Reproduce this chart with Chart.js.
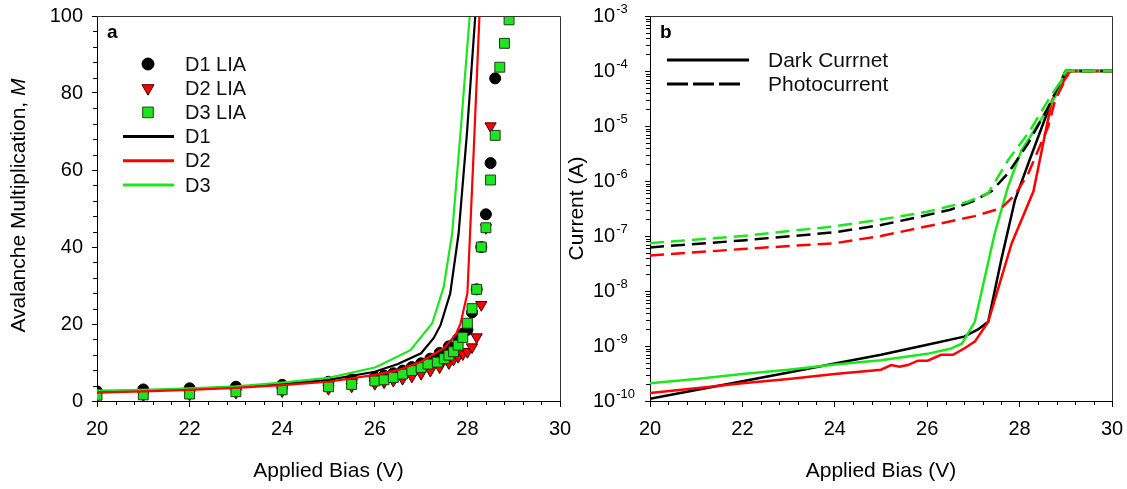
<!DOCTYPE html>
<html><head><meta charset="utf-8">
<script src="https://cdn.jsdelivr.net/npm/chart.js@4.4.1/dist/chart.umd.min.js"></script>
<style>
html,body{margin:0;padding:0;background:#fff;}
#wrap{position:relative;width:1127px;height:489px;overflow:hidden;background:#fff;}
#ca{position:absolute;left:0;top:0;}
#cb{position:absolute;left:560px;top:0;}
</style></head><body>
<div id="wrap"><canvas id="ca" width="580" height="489"></canvas><canvas id="cb" width="567" height="489"></canvas></div>
<script>
// ---------- Panel a : avalanche multiplication ----------
const biasD1LIA = [20,21,22,23,24,25,25.5,26,26.2,26.4,26.6,26.8,27.0,27.2,27.4,27.6,27.8,27.9,28.0,28.1,28.2,28.3,28.4,28.5,28.6];
const multD1LIA = [2.5,3.0,3.3,3.7,4.2,5.0,5.6,6.2,6.6,7.2,7.9,8.8,9.8,11.0,12.5,14.2,16.2,17.5,18.5,23,29,40,48.5,61.8,83.8];
const biasD2LIA = [20,21,22,23,24,25,25.5,26,26.2,26.4,26.6,26.8,27.0,27.2,27.4,27.6,27.7,27.8,27.9,28.0,28.1,28.2,28.3,28.4,28.5];
const multD2LIA = [1.3,1.5,1.7,2.2,2.6,3.2,3.8,4.5,4.9,5.3,5.8,6.4,7.1,7.9,8.8,9.9,10.8,11.5,12.2,12.8,14.0,16.6,25,45,71.4];
const biasD3LIA = [20,21,22,23,24,25,25.5,26,26.2,26.4,26.6,26.8,27.0,27.15,27.35,27.5,27.6,27.7,27.8,27.9,28.0,28.1,28.2,28.3,28.4,28.5,28.6,28.7,28.8,28.9];
const multD3LIA = [1.5,1.6,1.8,2.4,2.9,3.7,4.3,5.2,5.5,6.1,7.0,7.9,8.7,9.6,10.1,11.0,11.9,12.8,14.5,16.5,20.2,24,29,40,45,57.4,69,86.7,92.9,99];
const biasD1 = [20,21,22,23,24,25,26,26.5,27,27.27,27.42,27.63,27.81,27.99,28.17];
const multD1 = [2.4,2.7,3.1,3.6,4.4,5.5,7.6,9.6,12.4,16.3,19.7,28,43.5,69.5,100];
const biasD2 = [20,21,22,23,24,25,26,26.5,27,27.5,27.75,27.85,28.0,28.14,28.26];
const multD2 = [2.2,2.5,2.9,3.4,4.1,5.0,6.8,8.0,10.2,13.8,17.3,20,28,66,100];
const biasD3 = [20,21,22,23,24,25,26,26.12,26.77,27.24,27.49,27.67,27.85,28.05];
const multD3 = [2.7,2.9,3.3,3.8,4.8,6.0,8.7,9.35,13.2,20.2,29.7,43.5,69.5,100];
const xTicksA = [20,22,24,26,28,30];
const yTicksA = [0,20,40,60,80,100];

// ---------- Panel b : dark current / photocurrent ----------
const biasDarkD1 = [20,21,22,23,24,25,26,26.8,27.1,27.32,27.6,27.9,28.19,28.62,28.95,29.0,30];
const darkD1 = [1.1e-10,1.58e-10,2.29e-10,3.31e-10,4.79e-10,6.92e-10,1.05e-9,1.48e-9,2.0e-9,2.75e-9,3.6e-8,4.5e-7,2.1e-6,1.95e-5,7.4e-5,1e-4,1e-4];
const biasDarkD2 = [20,21,22,23,24,25,25.22,25.4,25.58,25.8,26.01,26.3,26.56,26.81,27.03,27.32,27.83,28.3,28.7,29.06,29.1,30];
const darkD2 = [1.4e-10,1.7e-10,2.1e-10,2.5e-10,3.1e-10,3.7e-10,4.5e-10,4.2e-10,4.5e-10,5.4e-10,5.4e-10,6.9e-10,6.9e-10,9.1e-10,1.2e-9,2.75e-9,7.4e-8,6.5e-7,2.95e-5,9.1e-5,1e-4,1e-4];
const biasDarkD3 = [20,21,22,23,24,25,26,26.5,26.75,27.03,27.46,27.75,28.04,28.41,28.77,28.98,29.0,30];
const darkD3 = [2.1e-10,2.5e-10,3.1e-10,3.7e-10,4.6e-10,5.5e-10,7.2e-10,8.9e-10,1.1e-9,2.75e-9,1.1e-7,7.9e-7,3.6e-6,1.1e-5,3.4e-5,9.8e-5,1e-4,1e-4];
const biasPhotoD1 = [20,22,24,25,26,26.5,27,27.39,27.75,28.19,28.62,29.0,30];
const photoD1 = [6.2e-8,8.3e-8,1.17e-7,1.58e-7,2.4e-7,3.0e-7,4.3e-7,6.5e-7,1.38e-6,4.9e-6,2.2e-5,1e-4,1e-4];
const biasPhotoD2 = [20,22,24,25,26,27.03,27.6,27.9,28.19,28.62,28.77,29.04,29.1,30];
const photoD2 = [4.4e-8,5.8e-8,7.4e-8,1.0e-7,1.5e-7,2.3e-7,3.2e-7,5.6e-7,1.38e-6,9.8e-6,2.95e-5,8.5e-5,1e-4,1e-4];
const biasPhotoD3 = [20,22,24,25,26,26.5,26.88,27.32,27.75,28.19,28.62,28.91,29.0,30];
const photoD3 = [7.4e-8,1.0e-7,1.5e-7,2.0e-7,2.75e-7,3.5e-7,4.2e-7,6.0e-7,2.4e-6,7.4e-6,2.95e-5,6.9e-5,1e-4,1e-4];

const FONT = '"Liberation Sans", Arial, sans-serif';
Chart.defaults.font.family = FONT;
Chart.defaults.color = '#000';
const GREEN = '#1ee61e', RED = '#ff0000', BLACK = '#000000';

function pts(xs, ys){ return xs.map((x,i)=>({x:x, y:ys[i]})); }

function minorPlugin(xVals, yVals){
  return {id:'minorTicks', afterDraw(chart){
    const ctx=chart.ctx, a=chart.chartArea, xs=chart.scales.x, ys=chart.scales.y;
    ctx.save(); ctx.strokeStyle='#000'; ctx.lineWidth=1; ctx.beginPath();
    xVals.forEach(v=>{const p=Math.round(xs.getPixelForValue(v))+0.5; ctx.moveTo(p,a.bottom); ctx.lineTo(p,a.bottom+4);});
    yVals.forEach(v=>{const p=Math.round(ys.getPixelForValue(v))+0.5; ctx.moveTo(a.left-4,p); ctx.lineTo(a.left,p);});
    ctx.stroke();
    ctx.beginPath();
    ctx.moveTo(a.left, Math.round(a.top)+0.5); ctx.lineTo(Math.round(a.right)+0.5, Math.round(a.top)+0.5);
    ctx.lineTo(Math.round(a.right)+0.5, a.bottom);
    ctx.strokeStyle='#333'; ctx.stroke();
    ctx.restore();
  }};
}
function panelLabel(txt){
  return {id:'panelLabel', afterDraw(chart){
    const ctx=chart.ctx, a=chart.chartArea;
    ctx.save(); ctx.font='bold 19px '+FONT; ctx.fillStyle='#000'; ctx.textBaseline='alphabetic'; ctx.textAlign='left';
    ctx.fillText(txt, a.left+10, a.top+22); ctx.restore();
  }};
}

const xMinor = []; for(let i=0;i<=25;i++){ if(i%5) xMinor.push(20+i*0.4); }
const yMinorA = []; for(let i=0;i<=25;i++){ if(i%5) yMinorA.push(i*4); }
const yMinorB = []; for(let e=-10;e<=-4;e++){ for(let k=2;k<=9;k++) yMinorB.push(k*Math.pow(10,e)); }

const legendA = {id:'legendA', afterDraw(chart){
  const ctx=chart.ctx, a=chart.chartArea;
  ctx.save();
  chart.data.datasets.forEach((ds,i)=>{
    const y = a.top + 48 + i*24.2;
    if (ds.showLine){
      ctx.strokeStyle=ds.borderColor; ctx.lineWidth=3; ctx.beginPath();
      ctx.moveTo(a.left+26,y); ctx.lineTo(a.left+77,y); ctx.stroke();
    } else {
      ctx.fillStyle=ds.backgroundColor; ctx.strokeStyle=ds.borderColor; ctx.lineWidth=ds.borderWidth;
      Chart.helpers.drawPoint(ctx,{pointStyle:ds.pointStyle, radius:ds.pointRadius+0.5, rotation:ds.pointRotation||0, borderWidth:ds.borderWidth}, a.left+51, y);
    }
    ctx.fillStyle='#111'; ctx.font='20px '+FONT; ctx.textBaseline='middle'; ctx.textAlign='left';
    ctx.fillText(ds.label, a.left+88, y+1);
  });
  ctx.restore();
}};

const yTitleA = {id:'yTitleA', afterDraw(chart){
  const ctx=chart.ctx, a=chart.chartArea;
  const t1='Avalanche Multiplication, ', t2='M';
  ctx.save();
  ctx.translate(19, (a.top+a.bottom)/2 - 3);
  ctx.rotate(-Math.PI/2);
  ctx.fillStyle='#000'; ctx.textBaseline='middle'; ctx.textAlign='left';
  ctx.font='21px '+FONT; const w1=ctx.measureText(t1).width;
  ctx.font='italic 21px '+FONT; const w2=ctx.measureText(t2).width;
  const x0=-(w1+w2)/2;
  ctx.font='21px '+FONT; ctx.fillText(t1,x0,0);
  ctx.font='italic 21px '+FONT; ctx.fillText(t2,x0+w1,0);
  ctx.restore();
}};

function markerDs(label, xs, ys, style, color, border, radius, rot, order){
  return {label, data:pts(xs,ys), showLine:false, pointStyle:style, pointRadius:radius, pointHoverRadius:radius,
    pointRotation:rot, backgroundColor:color, borderColor:border, borderWidth:1, order};
}
function lineDs(label, xs, ys, color, width, order, dash){
  return {label, data:pts(xs,ys), showLine:true, pointRadius:0, pointHoverRadius:0, borderColor:color,
    backgroundColor:color, borderWidth:width, tension:0, order, borderDash:dash||[], fill:false};
}

const commonX = {
  type:'linear', min:20, max:30,
  ticks:{stepSize:2, font:{size:20}, color:'#000', padding:10, maxRotation:0, autoSkip:false},
  grid:{drawOnChartArea:false, tickLength:6, color:'#000', tickColor:'#000'},
  border:{color:'#000', width:1},
  title:{display:true, text:'Applied Bias (V)', font:{size:21}, color:'#000', padding:{top:0,bottom:5}},
  afterFit(s){ s.height=88; s.paddingLeft=0; s.paddingRight=0; }
};

new Chart(document.getElementById('ca'), {
  type:'scatter',
  data:{datasets:[
    markerDs('D1 LIA', biasD1LIA, multD1LIA, 'circle', BLACK, BLACK, 5.5, 0, 6),
    markerDs('D2 LIA', biasD2LIA, multD2LIA, 'triangle', RED, '#400000', 6.5, 180, 5),
    markerDs('D3 LIA', biasD3LIA, multD3LIA, 'rect', GREEN, '#1f3a1f', 7, 0, 4),
    lineDs('D1', biasD1, multD1, BLACK, 2.2, 3),
    lineDs('D2', biasD2, multD2, RED, 2.2, 1),
    lineDs('D3', biasD3, multD3, GREEN, 2.2, 2)
  ]},
  options:{
    responsive:false, animation:false, events:[],
    layout:{padding:{top:16,right:20,left:0,bottom:0}},
    plugins:{legend:{display:false}, tooltip:{enabled:false}},
    scales:{
      x: commonX,
      y:{type:'linear', min:0, max:100,
        afterBuildTicks(s){ s.ticks = yTicksA.map(v=>({value:v})); },
        ticks:{font:{size:20}, color:'#000', padding:9},
        grid:{drawOnChartArea:false, tickLength:5, color:'#000', tickColor:'#000'},
        border:{color:'#000', width:1},
        title:{display:false},
        afterFit(s){ s.width=97; s.paddingTop=0; s.paddingBottom=0; }
      }
    }
  },
  plugins:[minorPlugin(xMinor, yMinorA), panelLabel('a'), legendA, yTitleA]
});

const isDecade = v => { const l=Math.log10(v); return Math.abs(l-Math.round(l))<1e-6; };

const logLabels = {id:'logLabels', afterDraw(chart){
  const ctx=chart.ctx, ys=chart.scales.y;
  ctx.save(); ctx.fillStyle='#000'; ctx.textAlign='left'; ctx.textBaseline='middle';
  ys.ticks.forEach(t=>{
    if(!isDecade(t.value)) return;
    const e=Math.round(Math.log10(t.value));
    const py=ys.getPixelForValue(t.value);
    ctx.font='20px '+FONT; ctx.fillText('10', 33, py+0.5);
    const w=ctx.measureText('10').width;
    ctx.font='13px '+FONT; ctx.fillText(String(e), 33+w+1, py-7);
  });
  ctx.restore();
}};

const legendB = {id:'legendB', afterDraw(chart){
  const ctx=chart.ctx;
  ctx.save(); ctx.strokeStyle='#000'; ctx.lineWidth=3;
  ctx.beginPath(); ctx.moveTo(107,60); ctx.lineTo(189,60); ctx.stroke();
  ctx.setLineDash([21,5]); ctx.beginPath(); ctx.moveTo(107,84); ctx.lineTo(180,84); ctx.stroke();
  ctx.setLineDash([]);
  ctx.fillStyle='#111'; ctx.font='21px '+FONT; ctx.textBaseline='middle'; ctx.textAlign='left';
  ctx.fillText('Dark Currnet', 208, 61);
  ctx.fillText('Photocurrent', 208, 85);
  ctx.restore();
}};

const DASH=[14,7];
new Chart(document.getElementById('cb'), {
  type:'scatter',
  data:{datasets:[
    lineDs('D1 dark', biasDarkD1, darkD1, BLACK, 2.5, 6),
    lineDs('D2 dark', biasDarkD2, darkD2, RED, 2.5, 5),
    lineDs('D3 dark', biasDarkD3, darkD3, GREEN, 2.5, 4),
    lineDs('D1 photo', biasPhotoD1, photoD1, BLACK, 2.5, 3, DASH),
    lineDs('D2 photo', biasPhotoD2, photoD2, RED, 2.5, 2, DASH),
    lineDs('D3 photo', biasPhotoD3, photoD3, GREEN, 2.5, 1, DASH)
  ]},
  options:{
    responsive:false, animation:false, events:[],
    layout:{padding:{top:16,right:15,left:0,bottom:0}},
    plugins:{legend:{display:false}, tooltip:{enabled:false}},
    scales:{
      x: commonX,
      y:{type:'logarithmic', min:1e-10, max:1e-3,
        ticks:{display:false},
        grid:{drawOnChartArea:false, tickLength:5, color:'#000',
          tickColor: c => (c.tick && isDecade(c.tick.value)) ? '#000' : 'rgba(0,0,0,0)'},
        border:{color:'#000', width:1},
        title:{display:true, text:'Current (A)', font:{size:21}, color:'#000', padding:{top:5,bottom:0}},
        afterFit(s){ s.width=90; s.paddingTop=0; s.paddingBottom=0; }
      }
    }
  },
  plugins:[minorPlugin(xMinor, yMinorB), panelLabel('b'), legendB, logLabels]
});
</script>
</body></html>
